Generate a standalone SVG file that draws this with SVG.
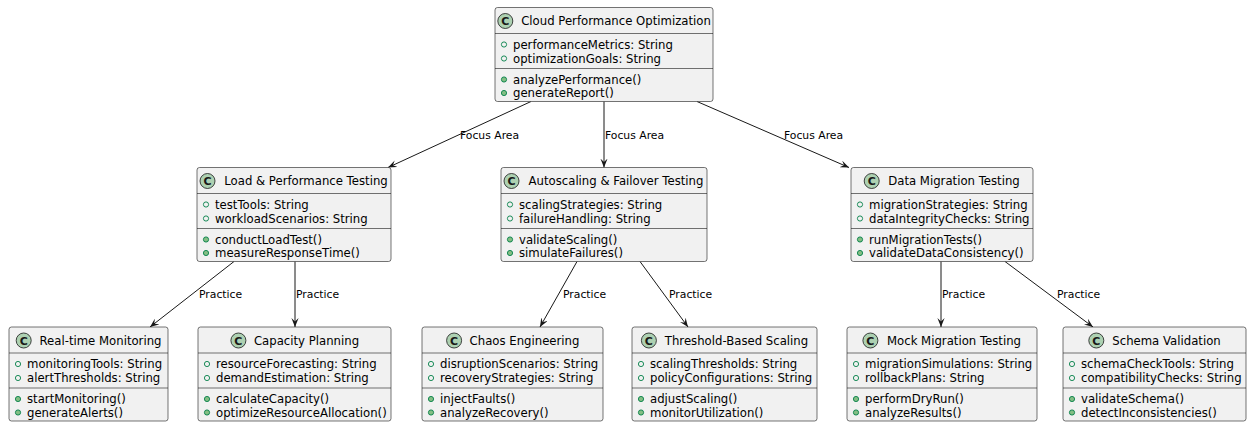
<svg xmlns="http://www.w3.org/2000/svg" width="1247" height="423" viewBox="0 0 1247 423">
  <style>
    .box { fill: #F1F1F1; stroke: #181818; stroke-width: 0.6; }
    .sep { stroke: #181818; stroke-width: 0.6; }
    .spot { fill: #ADD1B2; stroke: #181818; stroke-width: 0.8; }
    .spotc { font-family: "DejaVu Sans", sans-serif; font-size: 11px; font-weight: bold; fill: #181818; text-anchor: middle; }
    .name { font-family: "DejaVu Sans", sans-serif; font-size: 11.7px; fill: #000; text-anchor: middle; }
    .mem { font-family: "DejaVu Sans", sans-serif; font-size: 11.7px; fill: #000; }
    .fld { fill: none; stroke: #038048; stroke-width: 0.9; }
    .mth { fill: #84BE84; stroke: #038048; stroke-width: 0.9; }
    .edge { stroke: #181818; stroke-width: 1; fill: none; marker-end: url(#arr); }
    .lbl { font-family: "DejaVu Sans", sans-serif; font-size: 10.8px; fill: #000; }
  </style>
  <defs>
    <marker id="arr" viewBox="0 0 10 8" refX="10" refY="4" markerWidth="9" markerHeight="7.5" orient="auto" markerUnits="userSpaceOnUse">
      <path d="M0,0 L10,4 L0,8 L4,4 Z" fill="#181818"/>
    </marker>
  </defs>

  <!-- connectors -->
  <g id="connectors">
    <path class="edge" d="M531,101.5 L388,167.5"/>
    <path class="edge" d="M604,101.5 L604,167.5"/>
    <path class="edge" d="M697,101.5 L849,167.5"/>
    <path class="edge" d="M234,261.5 L150,327"/>
    <path class="edge" d="M295,261.5 L295,327"/>
    <path class="edge" d="M577,261.5 L540,327"/>
    <path class="edge" d="M640,261.5 L688,327"/>
    <path class="edge" d="M941,261.5 L941,327"/>
    <path class="edge" d="M1005,261.5 L1093,327"/>
    <text class="lbl" x="460" y="138.5">Focus Area</text>
    <text class="lbl" x="605" y="138.5">Focus Area</text>
    <text class="lbl" x="784" y="138.5">Focus Area</text>
    <text class="lbl" x="199" y="298">Practice</text>
    <text class="lbl" x="296" y="298">Practice</text>
    <text class="lbl" x="563" y="298">Practice</text>
    <text class="lbl" x="669" y="298">Practice</text>
    <text class="lbl" x="942" y="298">Practice</text>
    <text class="lbl" x="1057" y="298">Practice</text>
  </g>

  <!-- Cloud Performance Optimization -->
  <g id="cloud-performance-optimization" transform="translate(495,7.5)">
    <rect class="box" x="0" y="0" width="218" height="94" rx="2.5"/>
    <line class="sep" x1="0" y1="26" x2="218" y2="26"/>
    <line class="sep" x1="0" y1="61" x2="218" y2="61"/>
    <circle class="spot" cx="10.3" cy="13.5" r="7.5"/>
    <text class="spotc" x="10.3" y="17.5">C</text>
    <text class="name" x="121" y="17.5">Cloud Performance Optimization</text>
    <circle class="fld" cx="9" cy="37" r="2.6"/>
    <text class="mem" x="18" y="41">performanceMetrics: String</text>
    <circle class="fld" cx="9" cy="51" r="2.6"/>
    <text class="mem" x="18" y="55">optimizationGoals: String</text>
    <circle class="mth" cx="9" cy="72" r="2.6"/>
    <text class="mem" x="18" y="76">analyzePerformance()</text>
    <circle class="mth" cx="9" cy="85.5" r="2.6"/>
    <text class="mem" x="18" y="89.5">generateReport()</text>
  </g>

  <!-- Load & Performance Testing -->
  <g id="load-performance-testing" transform="translate(197,167.5)">
    <rect class="box" x="0" y="0" width="194" height="94" rx="2.5"/>
    <line class="sep" x1="0" y1="26" x2="194" y2="26"/>
    <line class="sep" x1="0" y1="61" x2="194" y2="61"/>
    <circle class="spot" cx="10.5" cy="13.5" r="7.5"/>
    <text class="spotc" x="10.5" y="17.5">C</text>
    <text class="name" x="109" y="17.5">Load &amp; Performance Testing</text>
    <circle class="fld" cx="9" cy="37" r="2.6"/>
    <text class="mem" x="18" y="41">testTools: String</text>
    <circle class="fld" cx="9" cy="51" r="2.6"/>
    <text class="mem" x="18" y="55">workloadScenarios: String</text>
    <circle class="mth" cx="9" cy="72" r="2.6"/>
    <text class="mem" x="18" y="76">conductLoadTest()</text>
    <circle class="mth" cx="9" cy="85.5" r="2.6"/>
    <text class="mem" x="18" y="89.5">measureResponseTime()</text>
  </g>

  <!-- Autoscaling & Failover Testing -->
  <g id="autoscaling-failover-testing" transform="translate(501,167.5)">
    <rect class="box" x="0" y="0" width="206" height="94" rx="2.5"/>
    <line class="sep" x1="0" y1="26" x2="206" y2="26"/>
    <line class="sep" x1="0" y1="61" x2="206" y2="61"/>
    <circle class="spot" cx="10.5" cy="13.5" r="7.5"/>
    <text class="spotc" x="10.5" y="17.5">C</text>
    <text class="name" x="115" y="17.5">Autoscaling &amp; Failover Testing</text>
    <circle class="fld" cx="9" cy="37" r="2.6"/>
    <text class="mem" x="18" y="41">scalingStrategies: String</text>
    <circle class="fld" cx="9" cy="51" r="2.6"/>
    <text class="mem" x="18" y="55">failureHandling: String</text>
    <circle class="mth" cx="9" cy="72" r="2.6"/>
    <text class="mem" x="18" y="76">validateScaling()</text>
    <circle class="mth" cx="9" cy="85.5" r="2.6"/>
    <text class="mem" x="18" y="89.5">simulateFailures()</text>
  </g>

  <!-- Data Migration Testing -->
  <g id="data-migration-testing" transform="translate(851,167.5)">
    <rect class="box" x="0" y="0" width="182" height="94" rx="2.5"/>
    <line class="sep" x1="0" y1="26" x2="182" y2="26"/>
    <line class="sep" x1="0" y1="61" x2="182" y2="61"/>
    <circle class="spot" cx="20.7" cy="13.5" r="7.5"/>
    <text class="spotc" x="20.7" y="17.5">C</text>
    <text class="name" x="103" y="17.5">Data Migration Testing</text>
    <circle class="fld" cx="9" cy="37" r="2.6"/>
    <text class="mem" x="18" y="41">migrationStrategies: String</text>
    <circle class="fld" cx="9" cy="51" r="2.6"/>
    <text class="mem" x="18" y="55">dataIntegrityChecks: String</text>
    <circle class="mth" cx="9" cy="72" r="2.6"/>
    <text class="mem" x="18" y="76">runMigrationTests()</text>
    <circle class="mth" cx="9" cy="85.5" r="2.6"/>
    <text class="mem" x="18" y="89.5">validateDataConsistency()</text>
  </g>

  <!-- Real-time Monitoring -->
  <g id="real-time-monitoring" transform="translate(9,327)">
    <rect class="box" x="0" y="0" width="159" height="94" rx="2.5"/>
    <line class="sep" x1="0" y1="26" x2="159" y2="26"/>
    <line class="sep" x1="0" y1="61" x2="159" y2="61"/>
    <circle class="spot" cx="14.7" cy="13.5" r="7.5"/>
    <text class="spotc" x="14.7" y="17.5">C</text>
    <text class="name" x="91.5" y="17.5">Real-time Monitoring</text>
    <circle class="fld" cx="9" cy="37" r="2.6"/>
    <text class="mem" x="18" y="41">monitoringTools: String</text>
    <circle class="fld" cx="9" cy="51" r="2.6"/>
    <text class="mem" x="18" y="55">alertThresholds: String</text>
    <circle class="mth" cx="9" cy="72" r="2.6"/>
    <text class="mem" x="18" y="76">startMonitoring()</text>
    <circle class="mth" cx="9" cy="85.5" r="2.6"/>
    <text class="mem" x="18" y="89.5">generateAlerts()</text>
  </g>

  <!-- Capacity Planning -->
  <g id="capacity-planning" transform="translate(198,327)">
    <rect class="box" x="0" y="0" width="193" height="94" rx="2.5"/>
    <line class="sep" x1="0" y1="26" x2="193" y2="26"/>
    <line class="sep" x1="0" y1="61" x2="193" y2="61"/>
    <circle class="spot" cx="40.4" cy="13.5" r="7.5"/>
    <text class="spotc" x="40.4" y="17.5">C</text>
    <text class="name" x="108.5" y="17.5">Capacity Planning</text>
    <circle class="fld" cx="9" cy="37" r="2.6"/>
    <text class="mem" x="18" y="41">resourceForecasting: String</text>
    <circle class="fld" cx="9" cy="51" r="2.6"/>
    <text class="mem" x="18" y="55">demandEstimation: String</text>
    <circle class="mth" cx="9" cy="72" r="2.6"/>
    <text class="mem" x="18" y="76">calculateCapacity()</text>
    <circle class="mth" cx="9" cy="85.5" r="2.6"/>
    <text class="mem" x="18" y="89.5">optimizeResourceAllocation()</text>
  </g>

  <!-- Chaos Engineering -->
  <g id="chaos-engineering" transform="translate(422,327)">
    <rect class="box" x="0" y="0" width="181" height="94" rx="2.5"/>
    <line class="sep" x1="0" y1="26" x2="181" y2="26"/>
    <line class="sep" x1="0" y1="61" x2="181" y2="61"/>
    <circle class="spot" cx="32.1" cy="13.5" r="7.5"/>
    <text class="spotc" x="32.1" y="17.5">C</text>
    <text class="name" x="102.5" y="17.5">Chaos Engineering</text>
    <circle class="fld" cx="9" cy="37" r="2.6"/>
    <text class="mem" x="18" y="41">disruptionScenarios: String</text>
    <circle class="fld" cx="9" cy="51" r="2.6"/>
    <text class="mem" x="18" y="55">recoveryStrategies: String</text>
    <circle class="mth" cx="9" cy="72" r="2.6"/>
    <text class="mem" x="18" y="76">injectFaults()</text>
    <circle class="mth" cx="9" cy="85.5" r="2.6"/>
    <text class="mem" x="18" y="89.5">analyzeRecovery()</text>
  </g>

  <!-- Threshold-Based Scaling -->
  <g id="threshold-based-scaling" transform="translate(632,327)">
    <rect class="box" x="0" y="0" width="185" height="94" rx="2.5"/>
    <line class="sep" x1="0" y1="26" x2="185" y2="26"/>
    <line class="sep" x1="0" y1="61" x2="185" y2="61"/>
    <circle class="spot" cx="16.9" cy="13.5" r="7.5"/>
    <text class="spotc" x="16.9" y="17.5">C</text>
    <text class="name" x="104.5" y="17.5">Threshold-Based Scaling</text>
    <circle class="fld" cx="9" cy="37" r="2.6"/>
    <text class="mem" x="18" y="41">scalingThresholds: String</text>
    <circle class="fld" cx="9" cy="51" r="2.6"/>
    <text class="mem" x="18" y="55">policyConfigurations: String</text>
    <circle class="mth" cx="9" cy="72" r="2.6"/>
    <text class="mem" x="18" y="76">adjustScaling()</text>
    <circle class="mth" cx="9" cy="85.5" r="2.6"/>
    <text class="mem" x="18" y="89.5">monitorUtilization()</text>
  </g>

  <!-- Mock Migration Testing -->
  <g id="mock-migration-testing" transform="translate(847,327)">
    <rect class="box" x="0" y="0" width="190" height="94" rx="2.5"/>
    <line class="sep" x1="0" y1="26" x2="190" y2="26"/>
    <line class="sep" x1="0" y1="61" x2="190" y2="61"/>
    <circle class="spot" cx="23.4" cy="13.5" r="7.5"/>
    <text class="spotc" x="23.4" y="17.5">C</text>
    <text class="name" x="107" y="17.5">Mock Migration Testing</text>
    <circle class="fld" cx="9" cy="37" r="2.6"/>
    <text class="mem" x="18" y="41">migrationSimulations: String</text>
    <circle class="fld" cx="9" cy="51" r="2.6"/>
    <text class="mem" x="18" y="55">rollbackPlans: String</text>
    <circle class="mth" cx="9" cy="72" r="2.6"/>
    <text class="mem" x="18" y="76">performDryRun()</text>
    <circle class="mth" cx="9" cy="85.5" r="2.6"/>
    <text class="mem" x="18" y="89.5">analyzeResults()</text>
  </g>

  <!-- Schema Validation -->
  <g id="schema-validation" transform="translate(1063,327)">
    <rect class="box" x="0" y="0" width="183" height="94" rx="2.5"/>
    <line class="sep" x1="0" y1="26" x2="183" y2="26"/>
    <line class="sep" x1="0" y1="61" x2="183" y2="61"/>
    <circle class="spot" cx="33.3" cy="13.5" r="7.5"/>
    <text class="spotc" x="33.3" y="17.5">C</text>
    <text class="name" x="103.5" y="17.5">Schema Validation</text>
    <circle class="fld" cx="9" cy="37" r="2.6"/>
    <text class="mem" x="18" y="41">schemaCheckTools: String</text>
    <circle class="fld" cx="9" cy="51" r="2.6"/>
    <text class="mem" x="18" y="55">compatibilityChecks: String</text>
    <circle class="mth" cx="9" cy="72" r="2.6"/>
    <text class="mem" x="18" y="76">validateSchema()</text>
    <circle class="mth" cx="9" cy="85.5" r="2.6"/>
    <text class="mem" x="18" y="89.5">detectInconsistencies()</text>
  </g>
</svg>
